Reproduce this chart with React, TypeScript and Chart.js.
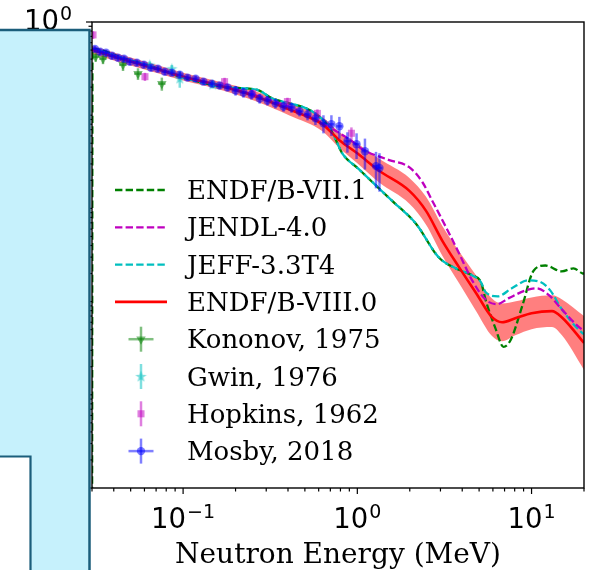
import React, { useEffect, useRef } from "react";
import { Chart, registerables } from "chart.js";
import { drawPoint } from "chart.js/helpers";
Chart.register(...registerables);

// ---------------- data ----------------
const X_MIN = 0.03;
const X_MAX = 20;
const Y_MIN = 1e-5;
const Y_MAX = 1;

const endf71E = [0.03, 0.0302, 0.045, 0.07, 0.1, 0.185, 0.264, 0.326, 0.408, 0.511, 0.631, 0.718, 0.818, 1.02, 1.34, 1.58, 2.17, 2.94, 3.68, 4.57, 5.13, 5.45, 6.2, 6.9, 7.6, 8.8, 10.3, 12.0, 14.9, 17.4, 19.6, 20];
const endf71XS = [1e-7, 0.515, 0.41, 0.32, 0.253, 0.198, 0.188, 0.151, 0.134, 0.118, 0.0902, 0.0656, 0.0392, 0.0264, 0.0162, 0.0121, 0.00685, 0.00297, 0.00227, 0.00191, 0.00161, 0.00104, 5.2e-4, 3.27e-4, 3.9e-4, 8.7e-4, 0.00216, 0.00244, 0.00211, 0.00227, 0.00201, 0.002];

const jendl40E = [0.03, 0.1, 0.211, 0.466, 0.692, 0.933, 1.068, 1.524, 1.985, 2.36, 2.69, 3.24, 3.84, 4.56, 5.48, 6.33, 7.41, 9.28, 10.7, 12.6, 14.7, 19.7, 20];
const jendl40XS = [0.515, 0.259, 0.184, 0.11, 0.0741, 0.0526, 0.0432, 0.033, 0.0277, 0.0192, 0.0121, 0.0062, 0.00328, 0.00169, 0.00104, 9.4e-4, 0.00109, 0.00132, 0.00139, 0.00117, 8.5e-4, 4.95e-4, 4.9e-4];

const jeff33E = [0.0302, 0.045, 0.07, 0.1, 0.185, 0.264, 0.326, 0.408, 0.511, 0.631, 0.718, 0.818, 1.02, 1.34, 1.58, 2.17, 2.94, 3.68, 4.57, 5.13, 5.45, 6.4, 7.7, 9.6, 11.0, 12.8, 14.9, 19.6, 20];
const jeff33XS = [0.515, 0.41, 0.32, 0.253, 0.198, 0.188, 0.151, 0.134, 0.118, 0.0902, 0.0656, 0.0392, 0.0264, 0.0162, 0.0121, 0.00685, 0.00297, 0.00227, 0.00191, 0.00161, 0.00126, 0.00114, 0.00139, 0.00169, 0.00165, 0.00132, 8.3e-4, 4.6e-4, 4.5e-4];

const endf80E = [0.03, 0.045, 0.07, 0.1, 0.169, 0.264, 0.408, 0.631, 0.789, 1.0, 1.34, 1.99, 2.48, 3.07, 3.84, 4.81, 5.93, 6.77, 8.13, 10.0, 13.1, 14.9, 20];
const endf80XS = [0.503, 0.398, 0.315, 0.259, 0.203, 0.158, 0.115, 0.0798, 0.054, 0.039, 0.0252, 0.0154, 0.0094, 0.00452, 0.00233, 0.00123, 6.8e-4, 6.0e-4, 6.65e-4, 7.5e-4, 7.9e-4, 6.8e-4, 3.6e-4];
const endf80Upper = [0.555, 0.439, 0.347, 0.286, 0.224, 0.179, 0.133, 0.0948, 0.0657, 0.0498, 0.0338, 0.0212, 0.0133, 0.00653, 0.00345, 0.00191, 0.00108, 9.56e-4, 0.00101, 0.00111, 0.00117, 0.00106, 6.99e-4];
const endf80Lower = [0.456, 0.361, 0.286, 0.235, 0.184, 0.14, 0.0992, 0.0672, 0.0444, 0.0305, 0.0188, 0.0112, 0.00667, 0.00313, 0.00157, 7.9e-4, 4.27e-4, 3.76e-4, 4.38e-4, 5.06e-4, 5.33e-4, 4.37e-4, 1.85e-4];

const kononovE = [0.0315, 0.0347, 0.0452, 0.0551, 0.0755];
const kononovXS = [0.424, 0.403, 0.348, 0.279, 0.218];
const kononovErr = [0.05, 0.05, 0.05, 0.04, 0.035];
const kononovErrE = [0.0016, 0.0017, 0.0023, 0.0028, 0.0038];

const gwinE = [0.0644, 0.0862, 0.0957, 0.148];
const gwinXS = [0.346, 0.315, 0.247, 0.213];
const gwinErr = [0.03, 0.03, 0.05, 0.02];

const hopkinsE = [0.0304, 0.0604, 0.173, 0.251, 0.397, 0.59, 0.925];
const hopkinsXS = [0.727, 0.259, 0.229, 0.171, 0.14, 0.1045, 0.064];
const hopkinsErr = [0.07, 0.026, 0.023, 0.017, 0.014, 0.011, 0.01];

const mosbyE = [0.0312, 0.0334, 0.0361, 0.0391, 0.0423, 0.0458, 0.0495, 0.0543, 0.0596, 0.0654, 0.0717, 0.0786, 0.0862, 0.0957, 0.106, 0.118, 0.131, 0.146, 0.162, 0.18, 0.2, 0.222, 0.247, 0.275, 0.305, 0.339, 0.377, 0.419, 0.466, 0.518, 0.575, 0.639, 0.71, 0.789, 0.877, 0.99, 1.106, 1.28, 1.34];
const mosbyXS = [0.515, 0.479, 0.467, 0.434, 0.413, 0.403, 0.375, 0.366, 0.348, 0.323, 0.315, 0.293, 0.286, 0.272, 0.253, 0.247, 0.229, 0.218, 0.208, 0.198, 0.184, 0.175, 0.167, 0.151, 0.144, 0.134, 0.124, 0.121, 0.11, 0.102, 0.0925, 0.0818, 0.0799, 0.076, 0.0526, 0.0489, 0.0411, 0.0284, 0.0271];
const mosbyErr = [0.041, 0.038, 0.037, 0.035, 0.033, 0.032, 0.03, 0.029, 0.028, 0.026, 0.025, 0.023, 0.023, 0.022, 0.02, 0.02, 0.018, 0.017, 0.017, 0.016, 0.022, 0.021, 0.02, 0.018, 0.017, 0.016, 0.015, 0.015, 0.013, 0.014, 0.014, 0.018, 0.02, 0.02, 0.013, 0.015, 0.015, 0.012, 0.012];
const mosbyErrE = [0.0012, 0.0013, 0.0014, 0.0016, 0.0017, 0.0018, 0.002, 0.0022, 0.0024, 0.0026, 0.0029, 0.0031, 0.0034, 0.0038, 0.0042, 0.0047, 0.0052, 0.0058, 0.0065, 0.0072, 0.008, 0.0089, 0.0099, 0.011, 0.012, 0.014, 0.015, 0.017, 0.019, 0.021, 0.023, 0.026, 0.028, 0.032, 0.035, 0.04, 0.044, 0.051, 0.054];

const xTickValues = [0.1, 1, 10];
const xTickExps = ["\u22121", "0", "1"];
const yTickValues = [1e-5, 1e-4, 1e-3, 1e-2, 1e-1, 1];
const yTickExps = ["\u22125", "\u22124", "\u22123", "\u22122", "\u22121", "0"];
const xTitle = "Neutron Energy (MeV)";

// ---------------- helpers ----------------
const pts = (xs: number[], ys: number[]) => xs.map((x, i) => ({ x, y: ys[i] }));

function makeStar(color: string) {
  const c = document.createElement("canvas");
  c.width = 13;
  c.height = 13;
  const g = c.getContext("2d")!;
  g.fillStyle = color;
  g.beginPath();
  for (let i = 0; i < 10; i++) {
    const r = i % 2 === 0 ? 6 : 2.5;
    const a = -Math.PI / 2 + (i * Math.PI) / 5;
    const px = 6.5 + r * Math.cos(a);
    const py = 6.8 + r * Math.sin(a);
    if (i === 0) g.moveTo(px, py);
    else g.lineTo(px, py);
  }
  g.closePath();
  g.fill();
  return c;
}

const SERIF = '"DejaVu Serif", serif';
const SANS = '"DejaVu Sans", sans-serif';

function drawPow(ctx: CanvasRenderingContext2D, exp: string, x: number, yBase: number, align: "center" | "right") {
  const base = `27.5px ${SANS}`;
  const sup = `19px ${SANS}`;
  ctx.font = base;
  const wb = ctx.measureText("10").width;
  ctx.font = sup;
  const we = ctx.measureText(exp).width;
  const total = wb + 1 + we;
  const x0 = align === "center" ? x - total / 2 : x - total;
  ctx.textAlign = "left";
  ctx.textBaseline = "alphabetic";
  ctx.fillStyle = "#000";
  ctx.font = base;
  ctx.fillText("10", x0, yBase);
  ctx.font = sup;
  ctx.fillText(exp, x0 + wb + 1, yBase - 10.5);
}

const errorBarPlugin = {
  id: "errbars",
  beforeDatasetDraw(chart: any, args: any) {
    const ds: any = chart.data.datasets[args.index];
    if (!ds.errY) return;
    const ctx: CanvasRenderingContext2D = chart.ctx;
    const xs = chart.scales.x;
    const ys = chart.scales.y;
    const ca = chart.chartArea;
    ctx.save();
    ctx.beginPath();
    ctx.rect(ca.left, ca.top, ca.right - ca.left, ca.bottom - ca.top);
    ctx.clip();
    ctx.strokeStyle = ds.errColor;
    ctx.lineWidth = 2.5;
    ds.data.forEach((p: any, i: number) => {
      const e = ds.errY[i];
      const px = xs.getPixelForValue(p.x);
      const py = ys.getPixelForValue(p.y);
      const y1 = ys.getPixelForValue(p.y + e);
      const y2 = ys.getPixelForValue(Math.max(p.y - e, 1e-12));
      ctx.beginPath();
      ctx.moveTo(px, y1);
      ctx.lineTo(px, y2);
      ctx.stroke();
      if (ds.errX) {
        const ex = ds.errX[i];
        const x1 = xs.getPixelForValue(p.x - ex);
        const x2 = xs.getPixelForValue(p.x + ex);
        ctx.beginPath();
        ctx.moveTo(x1, py);
        ctx.lineTo(x2, py);
        ctx.stroke();
      }
    });
    ctx.restore();
  },
};

const axesPlugin = {
  id: "axesDeco",
  afterDraw(chart: any) {
    const ctx: CanvasRenderingContext2D = chart.ctx;
    const xs = chart.scales.x;
    const ys = chart.scales.y;
    const ca = chart.chartArea;
    ctx.save();
    // spines
    ctx.strokeStyle = "#000";
    ctx.lineWidth = 1.4;
    ctx.strokeRect(ca.left, ca.top, ca.right - ca.left, ca.bottom - ca.top);
    // x ticks
    ctx.lineWidth = 1.2;
    for (let d = -2; d <= 1; d++) {
      for (let m = 1; m <= 9; m++) {
        const v = m * Math.pow(10, d);
        if (v < X_MIN * 0.999 || v > X_MAX * 1.001) continue;
        const px = xs.getPixelForValue(v);
        const len = m === 1 ? 6 : 3.5;
        ctx.beginPath();
        ctx.moveTo(px, ca.bottom);
        ctx.lineTo(px, ca.bottom + len);
        ctx.stroke();
      }
    }
    // y ticks
    for (let d = -5; d <= 0; d++) {
      for (let m = 1; m <= 9; m++) {
        const v = m * Math.pow(10, d);
        if (v < Y_MIN * 0.999 || v > Y_MAX * 1.001) continue;
        const py = ys.getPixelForValue(v);
        const len = m === 1 ? 6 : 3.5;
        ctx.beginPath();
        ctx.moveTo(ca.left, py);
        ctx.lineTo(ca.left - len, py);
        ctx.stroke();
      }
    }
    // tick labels
    xTickValues.forEach((v, i) => drawPow(ctx, xTickExps[i], xs.getPixelForValue(v), ca.bottom + 40, "center"));
    yTickValues.forEach((v, i) => drawPow(ctx, yTickExps[i], ca.left - 20, ys.getPixelForValue(v) + 8, "right"));
    // x title
    ctx.font = `28px ${SERIF}`;
    ctx.textAlign = "center";
    ctx.textBaseline = "alphabetic";
    ctx.fillStyle = "#000";
    ctx.fillText(xTitle, (ca.left + ca.right) / 2, 563);

    // legend
    const legendX = 187;
    const handleL = 115;
    const handleR = 167;
    const baseY0 = 199;
    const step = 37.3;
    const order = [0, 1, 2, 3, 6, 7, 8, 9];
    order.forEach((di, row) => {
      const ds: any = chart.data.datasets[di];
      const by = baseY0 + row * step;
      const cy = by - 9;
      if (ds.legendKind === "line") {
        ctx.save();
        ctx.strokeStyle = ds.borderColor;
        ctx.lineWidth = ds.borderWidth;
        ctx.setLineDash(ds.borderDash || []);
        ctx.beginPath();
        ctx.moveTo(handleL, cy);
        ctx.lineTo(handleR, cy);
        ctx.stroke();
        ctx.restore();
      } else {
        const cx = (handleL + handleR) / 2;
        ctx.save();
        ctx.strokeStyle = ds.errColor;
        ctx.lineWidth = 2.5;
        ctx.beginPath();
        ctx.moveTo(cx, cy - 12.5);
        ctx.lineTo(cx, cy + 12.5);
        ctx.stroke();
        if (ds.errX) {
          ctx.beginPath();
          ctx.moveTo(cx - 12.5, cy);
          ctx.lineTo(cx + 12.5, cy);
          ctx.stroke();
        }
        ctx.fillStyle = ds.backgroundColor;
        ctx.strokeStyle = ds.backgroundColor;
        drawPoint(ctx, { pointStyle: ds.pointStyle, rotation: ds.rotation || 0, radius: ds.pointRadius, borderWidth: 0 } as any, cx, cy);
        ctx.restore();
      }
      ctx.font = `26px ${SERIF}`;
      ctx.textAlign = "left";
      ctx.textBaseline = "alphabetic";
      ctx.fillStyle = "#000";
      ctx.fillText(ds.label, legendX, by);
    });

    // overlapping light-blue panel
    ctx.fillStyle = "#c6f1fc";
    ctx.fillRect(0, 29, 90, 570 - 29);
    ctx.strokeStyle = "#1b5e7b";
    ctx.lineWidth = 2.5;
    ctx.beginPath();
    ctx.moveTo(0, 30);
    ctx.lineTo(89.5, 30);
    ctx.lineTo(89.5, 570);
    ctx.stroke();
    ctx.fillStyle = "#ffffff";
    ctx.fillRect(0, 456, 31, 570 - 456);
    ctx.lineWidth = 2.2;
    ctx.beginPath();
    ctx.moveTo(0, 456.5);
    ctx.lineTo(30.5, 456.5);
    ctx.lineTo(30.5, 570);
    ctx.stroke();
    ctx.restore();
  },
};

export default function App() {
  const ref = useRef<HTMLCanvasElement | null>(null);
  useEffect(() => {
    if (!ref.current) return;
    const dashed = [7.4, 3.2];
    const lineBase = { showLine: true, pointRadius: 0, fill: false, cubicInterpolationMode: "monotone", legendKind: "line" };
    const chart = new Chart(ref.current, {
      type: "scatter",
      data: {
        datasets: [
          { ...lineBase, label: "ENDF/B-VII.1", data: pts(endf71E, endf71XS), borderColor: "#008000", borderWidth: 2.3, borderDash: dashed, order: 4 } as any,
          { ...lineBase, label: "JENDL-4.0", data: pts(jendl40E, jendl40XS), borderColor: "#bf00bf", borderWidth: 2.3, borderDash: dashed, order: 3 } as any,
          { ...lineBase, label: "JEFF-3.3T4", data: pts(jeff33E, jeff33XS), borderColor: "#00bfbf", borderWidth: 2.3, borderDash: dashed, borderDashOffset: 5, order: 3 } as any,
          { ...lineBase, label: "ENDF/B-VIII.0", data: pts(endf80E, endf80XS), borderColor: "#ff0000", borderWidth: 2.6, order: 2 } as any,
          { ...lineBase, label: "band+", data: pts(endf80E, endf80Upper), borderWidth: 0, borderColor: "rgba(0,0,0,0)", backgroundColor: "rgba(255,0,0,0.5)", fill: "+1", order: 10, legendKind: "none" } as any,
          { ...lineBase, label: "band-", data: pts(endf80E, endf80Lower), borderWidth: 0, borderColor: "rgba(0,0,0,0)", order: 10, legendKind: "none" } as any,
          { label: "Kononov, 1975", data: pts(kononovE, kononovXS), errY: kononovErr, errX: kononovErrE, errColor: "rgba(0,128,0,0.5)", pointStyle: "triangle", rotation: 180, pointRotation: 180, pointRadius: 5.5, backgroundColor: "rgba(0,128,0,0.5)", borderWidth: 0, order: 1, legendKind: "err" } as any,
          { label: "Gwin, 1976", data: pts(gwinE, gwinXS), errY: gwinErr, errColor: "rgba(0,191,191,0.5)", pointStyle: makeStar("rgba(0,191,191,0.5)"), pointRadius: 5, backgroundColor: "rgba(0,191,191,0.5)", borderWidth: 0, order: 1, legendKind: "err" } as any,
          { label: "Hopkins, 1962", data: pts(hopkinsE, hopkinsXS), errY: hopkinsErr, errColor: "rgba(191,0,191,0.5)", pointStyle: "rect", pointRadius: 5, backgroundColor: "rgba(191,0,191,0.5)", borderWidth: 0, order: 1, legendKind: "err" } as any,
          { label: "Mosby, 2018", data: pts(mosbyE, mosbyXS), errY: mosbyErr, errX: mosbyErrE, errColor: "rgba(0,0,255,0.5)", pointStyle: "circle", pointRadius: 4.2, backgroundColor: "rgba(0,0,255,0.5)", borderWidth: 0, order: 0, legendKind: "err" } as any,
        ],
      },
      options: {
        responsive: false,
        animation: false,
        devicePixelRatio: 1,
        layout: { padding: { left: 92, top: 22, right: 8, bottom: 82 } },
        plugins: { legend: { display: false }, tooltip: { enabled: false } },
        scales: {
          x: { type: "logarithmic", min: X_MIN, max: X_MAX, display: false },
          y: { type: "logarithmic", min: Y_MIN, max: Y_MAX, display: false },
        },
      } as any,
      plugins: [errorBarPlugin, axesPlugin],
    });
    return () => chart.destroy();
  }, []);
  return (
    <div style={{ position: "absolute", left: 0, top: 0, width: 592, height: 570, background: "#fff" }}>
      <canvas ref={ref} width={592} height={570} />
    </div>
  );
}
